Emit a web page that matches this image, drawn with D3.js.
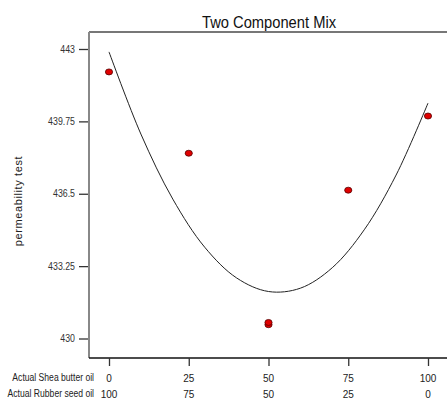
<!DOCTYPE html>
<html><head><meta charset="utf-8">
<script src="https://cdn.jsdelivr.net/npm/d3@7"></script>
<style>body{margin:0;background:#fff}svg{display:block}text{font-family:"Liberation Sans",Arial,sans-serif}</style>
</head><body><svg id="c" width="447" height="401"></svg>
<script>
const sheaTicks = [0, 25, 50, 75, 100];
const rubberTicks = ["100", "75", "50", "25", "0"];
const yTicks = [430, 433.25, 436.5, 439.75, 443];
const pointShea = [0, 25, 50, 50, 75, 100];
const pointValue = [441.97, 438.32, 430.62, 430.72, 436.66, 439.99];
const fitShea = [0, 10, 20, 30, 40, 50, 60, 70, 80, 90, 100];
const fitValue = [442.87, 439.18, 436.26, 434.10, 432.72, 432.11, 432.26, 433.18, 434.88, 437.34, 440.57];

const svg = d3.select("#c");
const L = 89, T = 32, B = 358, R = 449;
const x = d3.scaleLinear().domain([0, 100]).range([109, 428]);
const y = d3.scaleLinear().domain([430, 443]).range([338.5, 49]);

// title
svg.append("text").attr("x", 269).attr("y", 28).attr("text-anchor", "middle")
  .attr("font-size", 16).attr("fill", "#111").attr("transform","translate(269,0) scale(0.92,1) translate(-269,0)")
  .text("Two Component Mix");

// frame
svg.append("line").attr("x1", L).attr("x2", R).attr("y1", T).attr("y2", T).attr("stroke", "#777").attr("stroke-width", 2);
svg.append("line").attr("x1", L).attr("x2", L).attr("y1", T).attr("y2", B).attr("stroke", "#888").attr("stroke-width", 2);
svg.append("line").attr("x1", L).attr("x2", R).attr("y1", B).attr("y2", B).attr("stroke", "#111").attr("stroke-width", 1.5);

// y axis
const ya = svg.append("g").attr("transform", `translate(${L - 1},0)`)
  .call(d3.axisLeft(y).tickValues(yTicks).tickSize(9).tickPadding(4).tickFormat(d => String(d)));
ya.select(".domain").remove();
ya.selectAll("line").attr("stroke", "#333").attr("stroke-width", 1.3);
ya.selectAll("text").attr("font-size", 10).attr("fill", "#333").attr("font-family", "Liberation Sans, Arial, sans-serif")
  .attr("transform", function(){ const xx = +d3.select(this).attr("x"); return `translate(${xx},0) scale(0.88,1) translate(${-xx},0)`; });

// x axis
const xa = svg.append("g").attr("transform", `translate(0,${B})`)
  .call(d3.axisBottom(x).tickValues(sheaTicks).tickSize(8).tickFormat(""));
xa.select(".domain").remove();
xa.selectAll("line").attr("stroke", "#333").attr("stroke-width", 1.3);

const lab = svg.append("g").attr("font-size", 10).attr("fill", "#222");
sheaTicks.forEach((d, i) => {
  lab.append("text").attr("x", x(d)).attr("y", 381.5).attr("text-anchor", "middle").text(String(d));
  lab.append("text").attr("x", x(d)).attr("y", 397.5).attr("text-anchor", "middle").text(rubberTicks[i]);
});
lab.append("text").attr("x", 94).attr("y", 381.5).attr("text-anchor", "end")
  .attr("transform","translate(94,0) scale(0.86,1) translate(-94,0)").text("Actual Shea butter oil");
lab.append("text").attr("x", 94).attr("y", 397.5).attr("text-anchor", "end")
  .attr("transform","translate(94,0) scale(0.86,1) translate(-94,0)").text("Actual Rubber seed oil");

// y label
svg.append("text")
  .attr("transform", "translate(22,201) rotate(-90)").attr("text-anchor", "middle")
  .attr("font-size", 11).attr("fill", "#222").attr("letter-spacing", 0.6).text("permeability test");

// fitted curve
svg.append("path").datum(fitShea.map((d, i) => [d, fitValue[i]]))
  .attr("fill", "none").attr("stroke", "#222").attr("stroke-width", 1)
  .attr("d", d3.line().x(d => x(d[0])).y(d => y(d[1])).curve(d3.curveCatmullRom));

// points
svg.append("g").selectAll("ellipse").data(pointShea.map((d, i) => [d, pointValue[i]])).join("ellipse")
  .attr("cx", d => x(d[0])).attr("cy", d => y(d[1])).attr("rx", 3.6).attr("ry", 3)
  .attr("fill", "#e00000").attr("stroke", "#550000").attr("stroke-width", 0.8);
</script></body></html>
